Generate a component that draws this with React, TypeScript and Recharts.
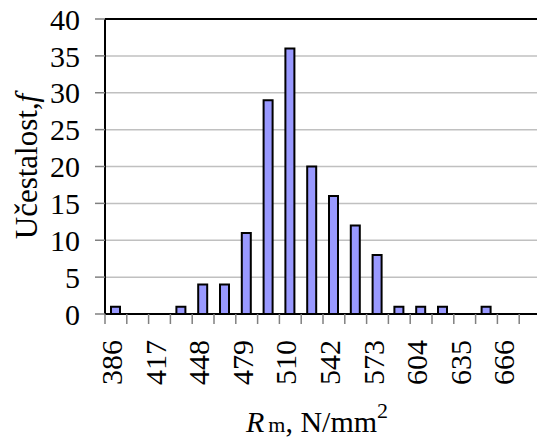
import React from 'react';
import {
  ComposedChart,
  Bar,
  XAxis,
  YAxis,
  CartesianGrid,
  ReferenceLine,
  Label,
} from 'recharts';

// class midpoints, N/mm2 (only every other one is labelled)
const classes = [
  '386', '402', '417', '433', '448', '464', '479', '495', '510', '526',
  '542', '557', '573', '588', '604', '620', '635', '651', '666', '682',
];
// frequency f per class
const counts = [1, 0, 0, 1, 4, 4, 11, 29, 36, 20, 16, 12, 8, 1, 1, 1, 0, 1, 0, 0];
const yTicks = [0, 5, 10, 15, 20, 25, 30, 35, 40];

const data = classes.map((name, i) => ({ name, f: counts[i] }));

const FONT = 'Liberation Serif, Times New Roman, DejaVu Serif, serif';

const XTick = (props: any) => {
  const { x, y, payload, index } = props;
  const off = payload && payload.offset != null ? payload.offset : 10.9;
  return (
    <g>
      <line x1={x - off} x2={x - off} y1={y} y2={y + 10} stroke="#808080" strokeWidth={1.5} />
      {index % 2 === 0 && (
        <text
          transform={`translate(${x + 6},${y + 26}) rotate(-90)`}
          textAnchor="end"
          style={{ fontFamily: FONT, fontSize: 30 }}
          fill="#000"
        >
          {payload.value}
        </text>
      )}
    </g>
  );
};

const XTitle = (props: any) => {
  const vb = props.viewBox || { x: 105, width: 436 };
  const cx = vb.x + vb.width / 2 - 6;
  return (
    <text x={cx} y={432} textAnchor="middle" style={{ fontFamily: FONT, fontSize: 30 }} fill="#000">
      <tspan fontStyle="italic">R</tspan>
      <tspan fontSize={22} dx={4}>m</tspan>
      <tspan>, N/mm</tspan>
      <tspan fontSize={22} dy={-14}>2</tspan>
    </text>
  );
};

const YTitle = (props: any) => {
  const vb = props.viewBox || { x: 0, y: 19, height: 295 };
  const cy = vb.y + vb.height / 2;
  return (
    <text
      transform={`translate(${vb.x + 37},${cy}) rotate(-90)`}
      textAnchor="middle"
      style={{ fontFamily: FONT, fontSize: 31 }}
      fill="#000"
    >
      Učestalost,<tspan fontStyle="italic">f</tspan>
    </text>
  );
};

export default function App() {
  return (
    <div
      style={{
        position: 'fixed',
        left: 0,
        top: 0,
        width: 537,
        height: 446,
        overflow: 'hidden',
        background: '#fff',
        fontFamily: FONT,
      }}
    >
      <ComposedChart
        width={541}
        height={446}
        data={data}
        margin={{ top: 19, right: 0, left: 0, bottom: 0 }}
        barCategoryGap={0}
      >
        <CartesianGrid vertical={false} stroke="#c0c0c0" strokeWidth={1.5} />
        <ReferenceLine y={40} stroke="#000" strokeWidth={2} />
        <Bar
          dataKey="f"
          fill="#9999ff"
          stroke="#000"
          strokeWidth={2}
          barSize={9}
          isAnimationActive={false}
        />
        <XAxis
          dataKey="name"
          interval={0}
          height={132}
          tickLine={false}
          tickSize={0}
          tickMargin={0}
          axisLine={{ stroke: '#000', strokeWidth: 2 }}
          tick={<XTick />}
        >
          <Label content={<XTitle />} />
        </XAxis>
        <YAxis
          width={105}
          domain={[0, 40]}
          ticks={yTicks}
          interval={0}
          tickSize={10}
          tickMargin={15}
          tickLine={{ stroke: '#808080', strokeWidth: 1.5 }}
          axisLine={{ stroke: '#000', strokeWidth: 2 }}
          tick={{ fill: '#000', fontSize: 30, fontFamily: FONT }}
        >
          <Label content={<YTitle />} />
        </YAxis>
      </ComposedChart>
    </div>
  );
}
